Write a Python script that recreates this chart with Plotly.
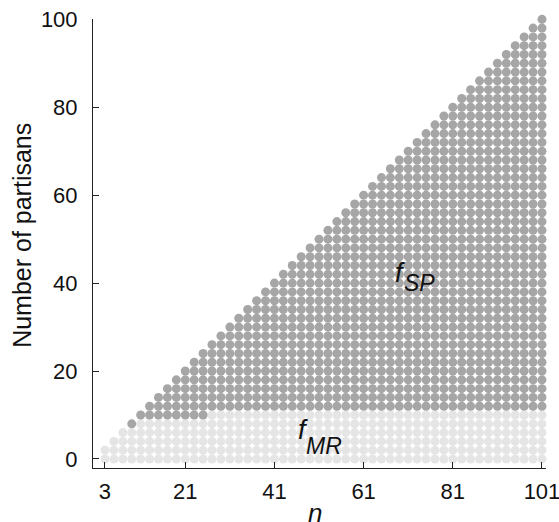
import plotly.graph_objects as go

# Group sizes n (odd) shown on the x axis
n_values = [3, 5, 7, 9, 11, 13, 15, 17, 19, 21, 23, 25, 27, 29, 31, 33, 35, 37, 39, 41,
            43, 45, 47, 49, 51, 53, 55, 57, 59, 61, 63, 65, 67, 69, 71, 73, 75, 77, 79, 81,
            83, 85, 87, 89, 91, 93, 95, 97, 99, 101]
# Largest number of partisans shown for each n
partisans_max = [2, 4, 6, 8, 10, 12, 14, 16, 18, 20, 22, 24, 26, 28, 30, 32, 34, 36, 38, 40,
                 42, 44, 46, 48, 50, 52, 54, 56, 58, 60, 62, 64, 66, 68, 70, 72, 74, 76, 78, 80,
                 82, 84, 86, 88, 90, 92, 94, 96, 98, 100]
# Largest number of partisans for which f_MR is the outcome (light region)
mr_max = [2, 4, 6, 6, 8, 8, 8, 8, 8, 8, 8, 8, 10, 10, 10, 10, 10, 10, 10, 10,
          10, 10, 10, 10, 10, 10, 10, 10, 10, 10, 10, 10, 10, 10, 10, 10, 10, 10, 10, 10,
          10, 10, 10, 10, 10, 10, 10, 10, 10, 10]
partisan_step = 2

x_ticks = [3, 21, 41, 61, 81, 101]
y_ticks = [0, 20, 40, 60, 80, 100]

mr_x, mr_y, sp_x, sp_y = [], [], [], []
for n, top, thr in zip(n_values, partisans_max, mr_max):
    for k in range(0, top + 1, partisan_step):
        if k <= thr:
            mr_x.append(n); mr_y.append(k)
        else:
            sp_x.append(n); sp_y.append(k)

LIGHT = "#e5e5e5"
DARK = "#a6a6a6"
FONT = "Liberation Sans, Arial, Helvetica, sans-serif"
TXT = "#111"

fig = go.Figure()
fig.add_trace(go.Scatter(x=mr_x, y=mr_y, mode="markers", cliponaxis=False,
                         marker=dict(size=9, color=LIGHT, line=dict(width=0)),
                         hoverinfo="skip", showlegend=False))
fig.add_trace(go.Scatter(x=sp_x, y=sp_y, mode="markers", cliponaxis=False,
                         marker=dict(size=9, color=DARK, line=dict(width=0)),
                         hoverinfo="skip", showlegend=False))

axis_common = dict(showgrid=False, zeroline=False, showline=True, linecolor="#222",
                   linewidth=1, ticks="inside", ticklen=6, tickwidth=1, tickcolor="#222",
                   automargin=False, ticklabeloverflow="allow",
                   tickfont=dict(family=FONT, size=22, color=TXT))

def label(text, x, y, size, xanchor="left", yanchor="middle"):
    return dict(text=text, x=x, y=y, showarrow=False, xanchor=xanchor, yanchor=yanchor,
                font=dict(family=FONT, size=size, color=TXT))

fig.update_layout(
    width=559, height=522,
    margin=dict(l=93, r=13, t=19, b=54),
    paper_bgcolor="white", plot_bgcolor="white",
    xaxis=dict(range=[0.31, 101.9], tickvals=x_ticks, ticktext=[str(v) for v in x_ticks],
               ticklabelstandoff=4, **axis_common),
    yaxis=dict(range=[-2.05, 100.07], tickvals=y_ticks, ticktext=[str(v) for v in y_ticks],
               ticklabelstandoff=10, **axis_common),
    annotations=[
        dict(text="Number of partisans", xref="paper", yref="paper", x=-0.157, y=0.519,
             textangle=-90, showarrow=False, xanchor="center", yanchor="middle",
             font=dict(family=FONT, size=25, color=TXT)),
        dict(text="<i>n</i>", xref="paper", yref="paper", x=0.49, y=-0.101,
             showarrow=False, xanchor="center", yanchor="middle",
             font=dict(family=FONT, size=26, color=TXT)),
        label("<i>f</i>", 67.6, 42.2, 27),
        label("<i>SP</i>", 69.6, 40.0, 23),
        label("<i>f</i>", 45.8, 6.6, 27),
        label("<i>MR</i>", 47.6, 2.96, 23),
    ],
)

# Remove the browser's default 8px page margin so the figure fills the window exactly.
fig.write_html("out.html", config={"displayModeBar": False},
               post_script="document.body.style.margin='0';document.body.style.overflow='hidden';")
